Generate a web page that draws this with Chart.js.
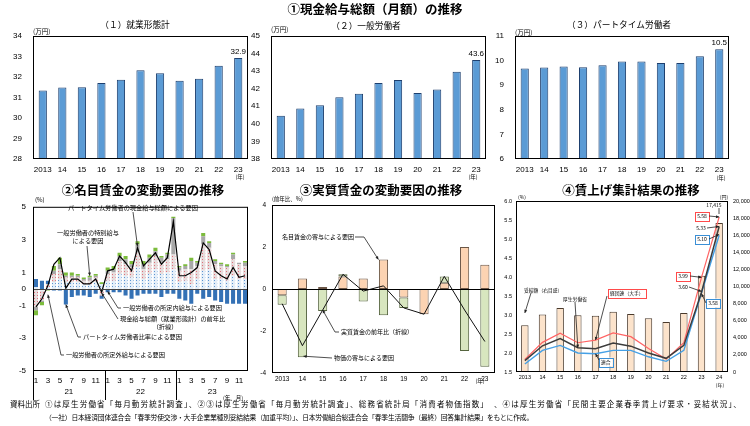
<!DOCTYPE html>
<html lang="ja"><head><meta charset="utf-8">
<script src="https://cdn.jsdelivr.net/npm/chart.js@4.4.1/dist/chart.umd.min.js"></script>
<style>
html,body{margin:0;padding:0;background:#fff;}
body{position:relative;width:750px;height:426px;overflow:hidden;font-family:"Noto Sans CJK JP","Liberation Sans",sans-serif;}
.t{position:absolute;white-space:nowrap;color:#000;line-height:1;}
canvas{position:absolute;}
</style></head><body>
<script>
// ================= DATA =================
// ① 現金給与総額（月額）(万円)
const years1 = ['2013','14','15','16','17','18','19','20','21','22','23'];
const payAllWorkers      = [31.34,31.49,31.50,31.71,31.86,32.33,32.18,31.82,31.92,32.55,32.93];
const payGeneralWorkers  = [40.46,40.87,41.06,41.52,41.71,42.33,42.50,41.75,41.96,42.96,43.64];
const payPartTimeWorkers = [9.68,9.72,9.76,9.73,9.81,9.96,9.96,9.90,9.90,10.18,10.46];

// ② 名目賃金の変動要因 (%), 2021/1 - 2023/12
const months = ['1','2','3','4','5','6','7','8','9','10','11','12',
                '1','2','3','4','5','6','7','8','9','10','11','12',
                '1','2','3','4','5','6','7','8','9','10','11','12'];
const monthYears = ['21','22','23'];
const nomTicks = [5,3,1,0,-1,-3,-5];
const nomWageGrowth = [-1.1,-0.6,0.2,1.5,1.9,0.05,0.6,0.6,0.3,0.3,0.6,-0.2,
                       1.1,1.2,2.0,1.6,1.1,2.5,1.4,1.8,2.2,1.5,1.9,4.1,
                       0.8,0.8,1.0,1.3,2.8,2.4,1.1,0.8,0.6,1.3,0.7,0.8];
const partTimePay   = [0.1,-0.1,0.1,0.4,0.6,0.4,0.4,0.4,0.3,0.3,0.4,0.3,
                       0.5,0.5,0.9,0.8,0.7,1.3,0.6,0.9,1.2,0.9,1.0,1.2,
                       0.4,0.5,0.3,0.6,1.1,1.2,0.6,0.6,0.5,0.8,0.6,0.6];
const scheduledPay  = [-1.1,-0.6,0.2,0.5,0.6,0.3,0.3,0.3,0.2,0.2,0.3,-0.4,
                       0.4,0.5,0.8,0.7,0.6,0.9,0.6,0.7,0.8,0.7,0.8,0.9,
                       0.7,0.7,0.9,0.8,1.6,1.3,0.9,0.8,0.8,1.0,0.9,0.8];
const specialPay    = [-0.2,-0.1,0.0,0.2,0.3,0.1,0.1,0.1,0.1,0.2,0.1,0.0,
                       0.2,0.2,0.3,0.3,0.2,0.5,0.3,0.3,0.3,0.3,0.3,2.2,
                       0.2,0.2,0.5,0.2,0.5,0.3,0.2,0.1,0.1,0.3,0.1,0.2];
const overtimePay   = [-0.3,-0.2,-0.1,0.3,0.4,0.2,0.2,0.1,0.1,0.1,0.1,0.1,
                       0.2,0.2,0.2,0.2,0.2,0.2,0.2,0.2,0.2,0.1,0.1,0.1,
                       0.1,0.1,0.2,0.1,0.2,0.1,0.1,0.1,0.1,0.1,0.0,0.1];
const partTimeRatio = [0.5,0.5,0.2,-0.1,-0.1,-0.95,-0.5,-0.4,-0.4,-0.5,-0.3,-0.2,
                       -0.2,-0.2,-0.2,-0.4,-0.6,-0.4,-0.3,-0.3,-0.3,-0.5,-0.3,-0.3,
                       -0.6,-0.7,-0.9,-0.3,-0.6,-0.5,-0.7,-0.8,-0.9,-0.9,-0.9,-0.9];

// ③ 実質賃金の変動要因 (前年比, %)
const years3 = ['2013','14','15','16','17','18','19','20','21','22','23'];
const nominalContrib = [-0.3,0.5,0.1,0.6,0.5,1.4,-0.4,-1.2,0.3,2.0,1.15];
const priceContrib   = [-0.45,-3.25,-1.05,0.1,-0.6,-1.25,-0.5,0.0,0.3,-2.95,-3.7];
const realWageGrowth = [-0.7,-2.7,-1.0,0.7,-0.1,0.15,-0.9,-1.2,0.6,-1.0,-2.5];

// ④ 賃上げ集計結果
const years4 = ['2013','14','15','16','17','18','19','20','21','22','23','24'];
const settlementYen = [5478,6711,7497,6639,6570,7033,6790,6286,5854,6898,11245,17415];
const keidanrenRate = [1.83,2.28,2.52,2.27,2.34,2.53,2.43,2.12,1.84,2.27,3.99,5.58];
const mhlwRate      = [1.80,2.19,2.38,2.14,2.11,2.26,2.18,2.00,1.86,2.20,3.60,5.33];
const rengoRate     = [1.71,2.07,2.20,2.00,1.98,2.07,2.07,1.90,1.78,2.07,3.58,5.10];

// ================= HELPERS =================
Chart.defaults.font.family = "'Liberation Sans','Noto Sans CJK JP',sans-serif";
Chart.defaults.color = '#000';
Chart.defaults.animation = false;
Chart.defaults.plugins.legend.display = false;
Chart.defaults.plugins.tooltip.enabled = false;

function T(s, x, y, size, o) {
  o = o || {};
  const d = document.createElement('div'); d.className = 't'; d.textContent = s;
  d.style.fontSize = size + 'px'; d.style.left = x + 'px'; d.style.top = y + 'px';
  const ax = o.align === 'center' ? '-50%' : o.align === 'right' ? '-100%' : '0';
  d.style.transform = 'translate(' + ax + ',-50%)';
  if (o.bold) d.style.fontWeight = 'bold';
  if (o.color) d.style.color = o.color;
  document.body.appendChild(d);
  return d;
}
function mk(id, l, t, w, h) {
  const c = document.createElement('canvas');
  c.id = id; c.width = w; c.height = h;
  c.style.left = l + 'px'; c.style.top = t + 'px'; c.style.width = w + 'px'; c.style.height = h + 'px';
  document.body.appendChild(c);
  return c;
}
const JP = "'Noto Sans CJK JP',sans-serif";
const ann = {};
function pt(chart, p, off) {
  if (Array.isArray(p)) return [p[0] - off[0], p[1] - off[1]];
  return [chart.scales.x.getPixelForValue(p.i), chart.scales[p.a || 'y'].getPixelForValue(p.v)];
}
function drawText(ctx, it, off) {
  const x = it.x - off[0], y = it.y - off[1];
  ctx.font = (it.bold ? 'bold ' : '') + it.size + 'px ' + JP;
  ctx.textAlign = it.align || 'left'; ctx.textBaseline = 'middle';
  if (it.box) {
    const w = ctx.measureText(it.s).width;
    const x0 = it.align === 'center' ? x - w / 2 : it.align === 'right' ? x - w : x;
    ctx.fillStyle = '#fff';
    ctx.fillRect(x0 - 2, y - it.size / 2 - 2, w + 4, it.size + 4);
    ctx.strokeStyle = it.box; ctx.lineWidth = 1;
    ctx.strokeRect(Math.round(x0 - 2) + 0.5, Math.round(y - it.size / 2 - 2) + 0.5, Math.round(w + 4), Math.round(it.size + 4));
  }
  ctx.fillStyle = it.color || '#000';
  ctx.fillText(it.s, x, y);
}
function drawArrow(ctx, chart, it, off) {
  const ps = it.pts.map(p => pt(chart, p, off));
  ctx.strokeStyle = it.color || '#222'; ctx.lineWidth = 0.8;
  ctx.beginPath(); ctx.moveTo(ps[0][0], ps[0][1]);
  for (let k = 1; k < ps.length; k++) ctx.lineTo(ps[k][0], ps[k][1]);
  ctx.stroke();
  if (it.head !== false) {
    const a = ps[ps.length - 2], b = ps[ps.length - 1];
    const ang = Math.atan2(b[1] - a[1], b[0] - a[0]), L = 3.5;
    ctx.fillStyle = it.color || '#222';
    ctx.beginPath(); ctx.moveTo(b[0], b[1]);
    ctx.lineTo(b[0] - L * Math.cos(ang - 0.45), b[1] - L * Math.sin(ang - 0.45));
    ctx.lineTo(b[0] - L * Math.cos(ang + 0.45), b[1] - L * Math.sin(ang + 0.45));
    ctx.closePath(); ctx.fill();
  }
}
const annPlugin = {
  id: 'annP',
  afterDatasetsDraw(chart) {
    const cfg = ann[chart.canvas.id]; if (!cfg) return;
    const ctx = chart.ctx, ca = chart.chartArea, off = cfg.off;
    ctx.save();
    if (cfg.zero) {
      const y = Math.round(chart.scales.y.getPixelForValue(0)) + 0.5;
      ctx.strokeStyle = cfg.zero; ctx.lineWidth = 1;
      ctx.beginPath(); ctx.moveTo(ca.left, y); ctx.lineTo(ca.right, y); ctx.stroke();
    }
    if (cfg.box) {
      ctx.strokeStyle = '#000'; ctx.lineWidth = 1;
      ctx.strokeRect(ca.left + 0.5, ca.top + 0.5, ca.right - ca.left - 1, ca.bottom - ca.top - 1);
    }
    if (cfg.endLabel) {
      const meta = chart.getDatasetMeta(0), n = meta.data.length - 1, el = meta.data[n];
      const v = chart.data.datasets[0].data[n];
      ctx.font = "8px 'Liberation Sans'"; ctx.fillStyle = '#000';
      ctx.textAlign = 'center'; ctx.textBaseline = 'bottom';
      ctx.fillText(v.toFixed(1), el.x, el.y - 2);
    }
    if (cfg.years) {
      const xs = chart.scales.x, b = ca.bottom, n = cfg.years.length, per = 12;
      ctx.strokeStyle = '#000'; ctx.lineWidth = 1;
      const vl = x => { x = Math.round(x) + 0.5; ctx.beginPath(); ctx.moveTo(x, b); ctx.lineTo(x, b + 29); ctx.stroke(); };
      vl(ca.left);
      ctx.font = "8px 'Liberation Sans'"; ctx.fillStyle = '#000'; ctx.textAlign = 'center'; ctx.textBaseline = 'middle';
      for (let k = 0; k < n; k++) {
        if (k > 0) vl((xs.getPixelForValue(k * per - 1) + xs.getPixelForValue(k * per)) / 2);
        const xm = (xs.getPixelForValue(k * per) + xs.getPixelForValue(k * per + per - 1)) / 2;
        ctx.fillText(cfg.years[k], xm, b + 21);
      }
    }
    (cfg.items || []).forEach(it => {
      if (it.t === 'text') drawText(ctx, it, off);
      else drawArrow(ctx, chart, it, off);
    });
    ctx.restore();
  }
};
const noGrid = { display: false, drawTicks: false };
const noBorder = { display: false };

// ================= ① top row =================
function topChart(id, l, w, yW, padR, data, min, max) {
  const c = mk(id, l, 15, w, 170);
  ann[id] = { off: [l, 15], box: true, endLabel: true };
  new Chart(c, {
    type: 'bar',
    data: { labels: years1, datasets: [{ data: data, backgroundColor: '#5b9bd5', borderColor: '#1d3f6e', borderWidth: 1, barPercentage: 0.42, categoryPercentage: 1 }] },
    options: {
      responsive: false,
      layout: { padding: { top: 21, right: padR, left: 0, bottom: 0 }, autoPadding: false },
      scales: {
        x: { grid: noGrid, border: noBorder, ticks: { font: { size: 8 }, padding: 6, maxRotation: 0, autoSkip: false }, afterFit: s => { s.height = 26; } },
        y: { min: min, max: max, ticks: { stepSize: 1, font: { size: 8 }, padding: 11 }, grid: noGrid, border: noBorder, afterFit: s => { s.width = yW; } }
      }
    },
    plugins: [annPlugin]
  });
}
topChart('c1', 0, 250, 33, 2, payAllWorkers, 28, 34);
topChart('c2', 250, 250, 21, 14, payGeneralWorkers, 38, 45);
topChart('c3', 488, 262, 27, 21, payPartTimeWorkers, 6, 11);

// ================= ② =================
const c4 = mk('c4', 0, 195, 252, 212);
function pat(canvas, bg, dot) {
  const tile = document.createElement('canvas'); tile.width = 3; tile.height = 3;
  const x = tile.getContext('2d'); x.fillStyle = bg; x.fillRect(0, 0, 3, 3);
  x.fillStyle = dot; x.fillRect(1, 1, 1, 1);
  return canvas.getContext('2d').createPattern(tile, 'repeat');
}
const patBlue = pat(c4, '#e4eef8', '#5b93d0');
const patPink = pat(c4, '#e6dcdc', '#e0707a');
function nb(data, bg) { return { type: 'bar', data: data, backgroundColor: bg, borderWidth: 0, stack: 'b', order: 1, barPercentage: 0.8, categoryPercentage: 0.85 }; }
ann['c4'] = {
  off: [0, 195], box: true, zero: '#444', years: monthYears,
  items: [
    { t: 'text', s: 'パートタイム労働者の現金給与総額による要因', x: 68, y: 208, size: 6.2 },
    { t: 'arrow', pts: [[133, 212], { i: 17, v: 2.6 }] },
    { t: 'text', s: '一般労働者の特別給与', x: 88, y: 233, size: 6.2, align: 'center' },
    { t: 'text', s: 'による要因', x: 88, y: 241, size: 6.2, align: 'center' },
    { t: 'arrow', pts: [[87, 246], { i: 9, v: 0.8 }] },
    { t: 'text', s: '一般労働者の所定内給与による要因', x: 123, y: 308, size: 6.2 },
    { t: 'arrow', pts: [[121, 308], [118, 308], { i: 12, v: -0.15 }] },
    { t: 'text', s: '現金給与総額（就業形態計）の前年比', x: 120, y: 319, size: 6.2 },
    { t: 'text', s: '（折線）', x: 165, y: 327, size: 6.2, align: 'center' },
    { t: 'arrow', pts: [[118, 319], { i: 11, v: -0.25 }] },
    { t: 'text', s: 'パートタイム労働者比率による要因', x: 83, y: 337, size: 6.2 },
    { t: 'arrow', pts: [[81, 337], [78, 337], { i: 5, v: -0.95 }] },
    { t: 'text', s: '一般労働者の所定外給与による要因', x: 66, y: 355, size: 6.2 },
    { t: 'arrow', pts: [[64, 355], [61, 355], { i: 2, v: -0.35 }] }
  ]
};
new Chart(c4, {
  data: {
    labels: months,
    datasets: [
      { type: 'line', data: nomWageGrowth, borderColor: '#000', borderWidth: 1.2, pointRadius: 0, stack: 'ln', order: 0 },
      nb(partTimePay, patBlue),
      nb(scheduledPay, patPink),
      nb(specialPay, '#a8a8a8'),
      nb(overtimePay, '#7cbc3c'),
      nb(partTimeRatio, '#3471b5')
    ]
  },
  options: {
    responsive: false,
    layout: { padding: { top: 8, right: 4, left: 0, bottom: 0 }, autoPadding: false },
    scales: {
      x: { stacked: true, grid: noGrid, border: noBorder,
           ticks: { font: { size: 8 }, padding: 5, maxRotation: 0, autoSkip: false,
                    callback: function (v, i) { const m = +months[i]; return m % 2 === 1 ? months[i] : ''; } },
           afterFit: s => { s.height = 36; } },
      y: { stacked: true, min: -5, max: 5, grid: noGrid, border: noBorder,
           ticks: { font: { size: 8 }, padding: 7 },
           afterBuildTicks: s => { s.ticks = nomTicks.map(v => ({ value: v })); },
           afterFit: s => { s.width = 33; } }
    }
  },
  plugins: [annPlugin]
});

// ================= ③ =================
const c5 = mk('c5', 250, 195, 250, 205);
ann['c5'] = {
  off: [250, 195], box: true, zero: '#000',
  items: [
    { t: 'text', s: '名目賃金の寄与による要因', x: 282, y: 237, size: 6 },
    { t: 'arrow', pts: [[355, 237], [364, 237], { i: 4.75, v: 1.4 }] },
    { t: 'text', s: '実質賃金の前年比（折線）', x: 341, y: 332, size: 6 },
    { t: 'arrow', pts: [[339, 332], [335, 332], { i: 2, v: -1.0 }] },
    { t: 'text', s: '物価の寄与による要因', x: 334, y: 358, size: 6 },
    { t: 'arrow', pts: [[332, 358], { i: 1.05, v: -3.2 }] }
  ]
};
new Chart(c5, {
  data: {
    labels: years3,
    datasets: [
      { type: 'line', data: realWageGrowth, borderColor: '#111', borderWidth: 1, pointRadius: 0, stack: 'ln', order: 0 },
      { type: 'bar', data: nominalContrib, backgroundColor: '#fcd3b2', borderColor: '#6b5646', borderWidth: 1, borderSkipped: false, stack: 'b', order: 1, barPercentage: 0.45, categoryPercentage: 1 },
      { type: 'bar', data: priceContrib, backgroundColor: '#d8e6bf', borderColor: '#55643f', borderWidth: 1, borderSkipped: false, stack: 'b', order: 1, barPercentage: 0.45, categoryPercentage: 1 }
    ]
  },
  options: {
    responsive: false,
    layout: { padding: { top: 10, right: 5, left: 0, bottom: 0 }, autoPadding: false },
    scales: {
      x: { stacked: true, grid: noGrid, border: noBorder, ticks: { font: { size: 6.5 }, padding: 2, maxRotation: 0, autoSkip: false }, afterFit: s => { s.height = 27; } },
      y: { stacked: true, min: -4, max: 4, grid: noGrid, border: noBorder, ticks: { stepSize: 2, font: { size: 6.5 }, padding: 6 }, afterFit: s => { s.width = 22; } }
    }
  },
  plugins: [annPlugin]
});

// ================= ④ =================
const c6 = mk('c6', 495, 192, 255, 208);
ann['c6'] = {
  off: [495, 192], box: true,
  items: [
    { t: 'text', s: '妥結額（右目盛）', x: 524, y: 290, size: 4.8 },
    { t: 'arrow', pts: [[531, 293], { i: 0, v: 6900, a: 'y1' }] },
    { t: 'text', s: '厚生労働省', x: 563, y: 299, size: 4.8 },
    { t: 'arrow', pts: [[575, 302], { i: 3, v: 2.14 }] },
    { t: 'text', s: '経団連（大手）', x: 610, y: 293, size: 4.8, box: '#ff4a4a' },
    { t: 'arrow', pts: [[607, 296], { i: 4, v: 2.34 }] },
    { t: 'text', s: '連合', x: 601, y: 362, size: 4.8, box: '#3a8fd6' },
    { t: 'arrow', pts: [[599, 360], { i: 4, v: 1.98 }] },
    { t: 'text', s: '17,415', x: 714, y: 205, size: 5, align: 'center' },
    { t: 'arrow', pts: [[719, 208], [719, 214]], head: false },
    { t: 'text', s: '5.58', x: 702, y: 216, size: 5, align: 'center', box: '#ff4a4a' },
    { t: 'arrow', pts: [[709, 216], { i: 11, v: 5.58 }] },
    { t: 'text', s: '5.33', x: 701, y: 228, size: 5, align: 'center' },
    { t: 'arrow', pts: [[707, 228], { i: 11, v: 5.33 }] },
    { t: 'text', s: '5.10', x: 702, y: 239, size: 5, align: 'center', box: '#3a8fd6' },
    { t: 'arrow', pts: [[709, 239], { i: 11, v: 5.12 }] },
    { t: 'text', s: '3.99', x: 683, y: 276, size: 5, align: 'center', box: '#ff4a4a' },
    { t: 'arrow', pts: [[690, 276], { i: 10, v: 3.99 }] },
    { t: 'text', s: '3.60', x: 683, y: 287, size: 5, align: 'center' },
    { t: 'arrow', pts: [[689, 287], { i: 10, v: 3.62 }] },
    { t: 'text', s: '3.58', x: 713, y: 303, size: 5, align: 'center', box: '#3a8fd6' },
    { t: 'arrow', pts: [[706, 303], { i: 10, v: 3.56 }] }
  ]
};
new Chart(c6, {
  data: {
    labels: years4,
    datasets: [
      { type: 'line', data: mhlwRate, borderColor: '#3c3c3c', borderWidth: 1.5, pointRadius: 0, yAxisID: 'y', order: 0 },
      { type: 'line', data: keidanrenRate, borderColor: '#ff6464', borderWidth: 1.2, pointRadius: 0, yAxisID: 'y', order: 0 },
      { type: 'line', data: rengoRate, borderColor: '#45a0e6', borderWidth: 1.4, pointRadius: 0, yAxisID: 'y', order: 0 },
      { type: 'bar', data: settlementYen, backgroundColor: '#fce3cb', borderColor: '#4a3a2c', borderWidth: 1, yAxisID: 'y1', order: 1, barPercentage: 0.42, categoryPercentage: 1 }
    ]
  },
  options: {
    responsive: false,
    layout: { padding: { top: 9, right: 0, left: 0, bottom: 0 }, autoPadding: false },
    scales: {
      x: { grid: noGrid, border: noBorder, ticks: { font: { size: 5.5 }, padding: 2, maxRotation: 0, autoSkip: false }, afterFit: s => { s.height = 28; } },
      y: { position: 'left', min: 1.5, max: 6.0, grid: noGrid, border: noBorder,
           ticks: { stepSize: 0.5, font: { size: 5.5 }, padding: 4, callback: v => Number(v).toFixed(1) },
           afterFit: s => { s.width = 21; } },
      y1: { position: 'right', min: 0, max: 20000, grid: noGrid, border: noBorder,
            ticks: { stepSize: 2000, font: { size: 5.5 }, padding: 5, callback: v => Number(v).toLocaleString('en-US') },
            afterFit: s => { s.width = 22; } }
    }
  },
  plugins: [annPlugin]
});

// ================= TEXT =================
T('①現金給与総額（月額）の推移', 375, 9, 12.5, { align: 'center', bold: true });
T('（１）就業形態計', 135, 25, 8.7, { align: 'center' });
T('（２）一般労働者', 366, 26, 8.7, { align: 'center' });
T('（３）パートタイム労働者', 619, 25, 8.7, { align: 'center' });
T('(万円)', 33, 31, 6.5);
T('(万円)', 271, 29, 6.5);
T('(万円)', 515, 32, 6.5);
T('(年)', 240, 178, 5.5, { align: 'center' });
T('(年)', 473, 178, 5.5, { align: 'center' });
T('(年)', 721, 179, 5.5, { align: 'center' });

T('②名目賃金の変動要因の推移', 143, 190, 12.5, { align: 'center', bold: true });
T('③実質賃金の変動要因の推移', 381, 190, 12.5, { align: 'center', bold: true });
T('④賃上げ集計結果の推移', 631, 190, 12.5, { align: 'center', bold: true });
T('(%)', 35, 200, 6);
T('(年、月)', 233, 399, 5.5, { align: 'center' });
T('(前年比、%)', 272, 200, 5.5);
T('(年)', 480, 382, 5.5, { align: 'center' });
T('(%)', 518, 196, 5);
T('(円)', 724, 196, 5, { align: 'center' });
T('(年)', 720, 384, 5, { align: 'center' });

T('資料出所', 10, 404, 7.5);
const f1 = T('①は厚生労働省「毎月勤労統計調査」、②③は厚生労働省「毎月勤労統計調査」、総務省統計局「消費者物価指数」　、④は厚生労働省「民間主要企業春季賃上げ要求・妥結状況」、', 45, 404, 7.5);
const f2 = T('（一社）日本経済団体連合会「春季労使交渉・大手企業業種別妥結結果（加重平均）」、日本労働組合総連合会「春季生活闘争（最終）回答集計結果」をもとに作成。', 45, 417, 6.8);
function fit(el, target) {
  const w = el.getBoundingClientRect().width, n = el.textContent.length;
  el.style.letterSpacing = ((target - w) / n) + 'px';
}
fit(f1, 697);
fit(f2, 488);
</script>
</body></html>
